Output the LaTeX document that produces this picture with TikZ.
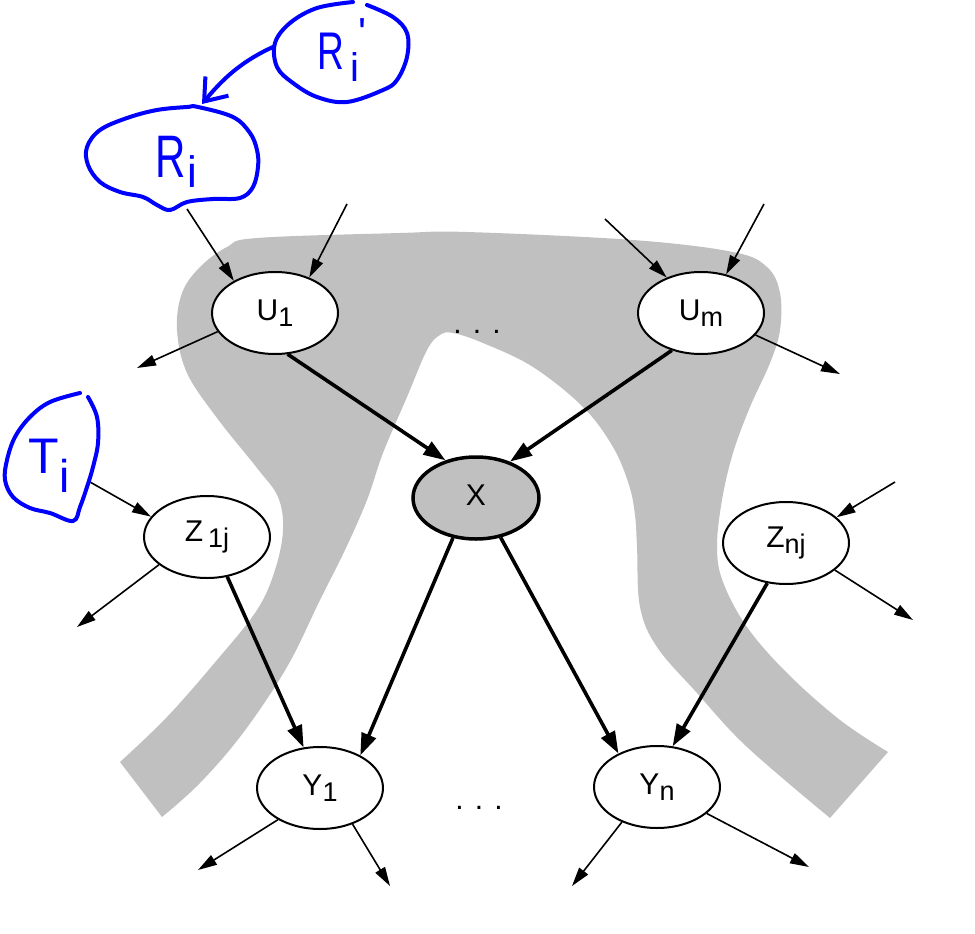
\documentclass[tikz,border=0pt]{standalone}
\usepackage{fontspec}
\setmainfont{Liberation Sans}
\usetikzlibrary{arrows.meta,shapes.geometric}
\definecolor{band}{RGB}{192,192,192}
\definecolor{pen}{RGB}{0,0,255}
\newcommand\hand[1]{\fontsize{#1}{#1}\selectfont}
\newcommand\lab[2]{{\hand{30}#1}\raisebox{-6pt}{\hand{27}#2}}
\begin{document}
\begin{tikzpicture}[x=1pt,y=-1pt,
  var/.style={ellipse,draw,line width=2pt,fill=white,minimum width=126pt,minimum height=82pt,inner sep=0pt},
  obs/.style={var,fill=band,line width=3.5pt},
  thinarr/.style={line width=1.6pt,-{Triangle[length=19pt,width=11pt]}},
  thickarr/.style={line width=3.6pt,-{Triangle[length=22pt,width=15pt]}},
  ink/.style={draw=pen,line width=4pt,line cap=round,line join=round},
  handtext/.style={text=pen,inner sep=0pt,anchor=base west},
  dots/.style={inner sep=0pt}
]
\useasboundingbox (0,0) rectangle (975,934);

% grey band
\fill[band] plot[smooth,tension=0.6] coordinates {(120,762) (167,717) (217,660) (257,610) (275,570) (283,530) (278,497) (257,468) (217,418) (187,373) (177,330) (182,293) (200,267) (227,247) (257,238) (400,233) (467,232) (633,240) (733,252) (767,267) (780,293) (780,330) (770,363) (750,407) (733,453) (722,500) (717,547) (723,582) (747,627) (787,673) (840,720) (888,752)}
  -- plot[smooth,tension=0.6] coordinates {(830,818) (747,747) (697,693) (657,647) (640,607) (637,547) (635,515) (629,485) (613,447) (583,407) (533,367) (483,343) (453,333) (440,335) (427,350) (407,397) (383,453) (367,500) (345,550) (320,600) (287,667) (243,733) (200,783) (162,817)} -- cycle;

% nodes
\node[var] (U1) at (275,313) {\lab{U}{1}};
\node[var] (Um) at (701,313) {\lab{U}{m}};
\node[obs] (X) at (476,498) {\lab{X}{}};
\node[var] (Z1) at (207,537) {\lab{Z\,}{1j}};
\node[var] (Zn) at (786,543) {\lab{Z}{nj}};
\node[var] (Y1) at (320,788) {\lab{Y}{1}};
\node[var] (Yn) at (657,787) {\lab{Y}{n}};
\node[dots] (d1) at (477,332) {\hand{30}. . .};
\node[dots] (d2) at (479,808) {\hand{30}. . .};

% free ends
\coordinate (a1) at (187,209);
\coordinate (a2) at (347,204);
\coordinate (a3) at (137,368);
\coordinate (b1) at (605,219);
\coordinate (b2) at (764,204);
\coordinate (b3) at (840,374);
\coordinate (t1) at (90,482);
\coordinate (z1o) at (77,627);
\coordinate (zni) at (895,482);
\coordinate (zno) at (913,620);
\coordinate (y1l) at (198,870);
\coordinate (y1r) at (390,886);
\coordinate (ynl) at (572,886);
\coordinate (ynr) at (809,867);

% thin arrows
\draw[thinarr] (a1) -- (U1.142.5);
\draw[thinarr] (a2) -- (U1.46);
\draw[thinarr] (U1.198) -- (a3);
\draw[thinarr] (b1) -- (Um.134);
\draw[thinarr] (b2) -- (Um.57);
\draw[thinarr] (Um.338) -- (b3);
\draw[thinarr] (t1) -- (Z1.160);
\draw[thinarr] (Z1.210.5) -- (z1o);
\draw[thinarr] (zni) -- (Zn.27.4);
\draw[thinarr] (Zn.331) -- (zno);
\draw[thinarr] (Y1.217) -- (y1l);
\draw[thinarr] (Y1.312) -- (y1r);
\draw[thinarr] (Yn.225.4) -- (ynl);
\draw[thinarr] (Yn.332.3) -- (ynr);

% thick arrows
\draw[thickarr] (U1.287) -- (X.129);
\draw[thickarr] (Um.232.5) -- (X.47.6);
\draw[thickarr] (X.240) -- (Y1.39);
\draw[thickarr] (X.302) -- (Yn.139);
\draw[thickarr] (Z1.297) -- (Y1.112);
\draw[thickarr] (Zn.245.8) -- (Yn.69);

% handwritten additions
\draw[ink] plot[smooth cycle,tension=0.6] coordinates {(198,107) (233,117) (250,133) (257,150) (258,167) (253,187) (240,198) (213,199) (187,202) (170,210) (157,205) (143,197) (120,192) (100,182) (88,165) (87,147) (100,130) (127,118) (157,110) (187,107)};
\draw[ink] plot[smooth,tension=0.6] coordinates {(367,5) (393,17) (407,33) (407,57) (397,80) (383,90) (347,102) (317,97) (293,83) (277,67) (275,43) (290,23) (317,8) (353,2)};
\draw[ink] plot[smooth,tension=0.6] coordinates {(88,397) (97,417) (98,443) (93,467) (87,487) (80,507) (73,521) (50,513) (30,508) (13,497) (5,480) (7,460) (15,437) (30,417) (50,402) (80,393)};

\node[handtext] (Ri) at (155,177) {{\hand{60}\scalebox{0.7}[1]{R}}\kern2pt\raisebox{-10pt}{\hand{44}i}};
\node[handtext] (Rp) at (317,70) {{\hand{53}\scalebox{0.7}[1]{R}}\kern7pt\raisebox{-12pt}{\hand{40}i}\kern-1pt\raisebox{22pt}{\hand{42}\textquotesingle}};
\node[handtext] (Ti) at (28,473) {{\hand{50}T}\kern1pt\raisebox{-19pt}{\hand{46}i}};

\coordinate (rpa) at (273,47);
\coordinate (ria) at (202,104);
\draw[ink,-{Straight Barb[length=20pt,width=30pt]}] (rpa) .. controls (240,62) and (222,80) .. (ria);
\end{tikzpicture}
\end{document}
